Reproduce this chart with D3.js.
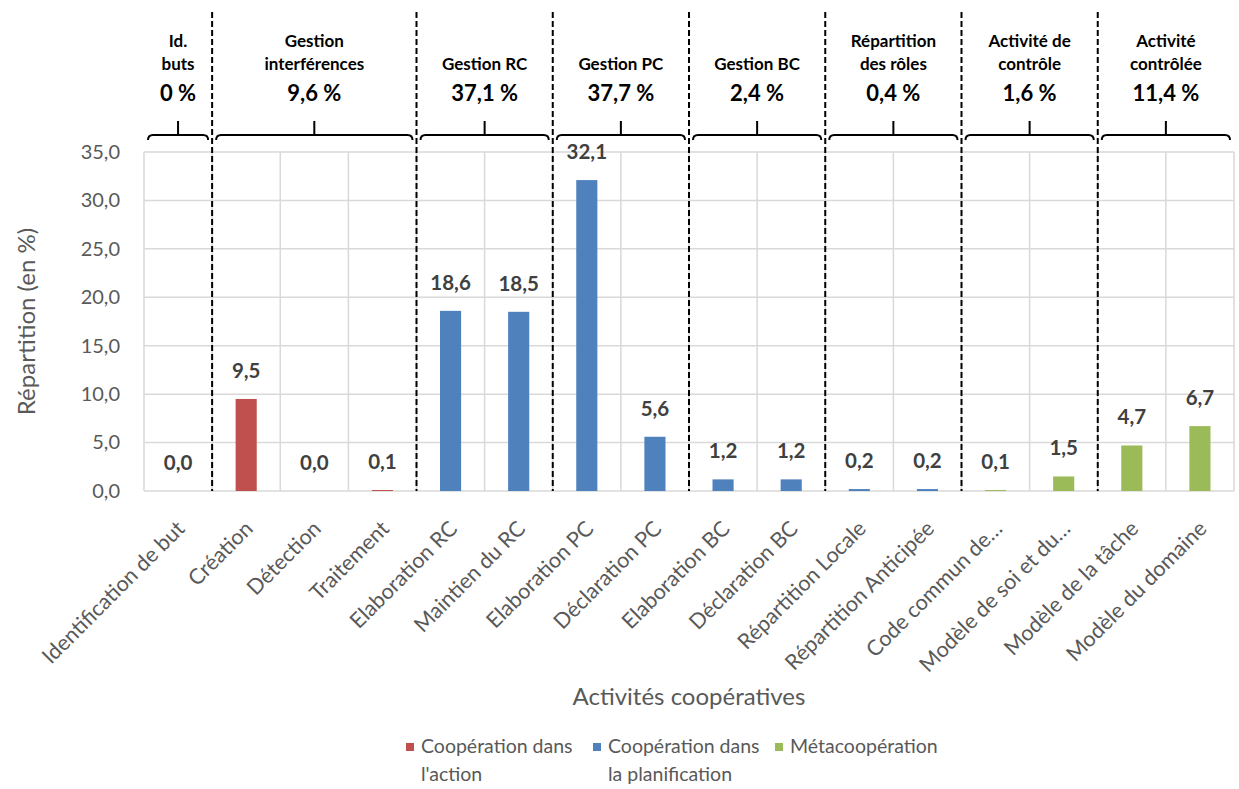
<!DOCTYPE html>
<html lang="fr">
  <head>
    <meta charset="utf-8">
    <title>Activités coopératives</title>
    <script src="https://cdn.jsdelivr.net/npm/d3@7"></script>
    <style>
      body { margin: 0; background: #fff; }
      svg { font-family: Lato, "Open Sans", sans-serif; }
    </style>
  </head>
  <body>
    <svg id="chart" width="1239" height="789"></svg>
    <script type="text/javascript">

    // categories and values (en %)
    var categories = ["Identification de but", "Création", "Détection", "Traitement",
      "Elaboration RC", "Maintien du RC", "Elaboration PC", "Déclaration PC",
      "Elaboration BC", "Déclaration BC", "Répartition Locale", "Répartition Anticipée",
      "Code commun de…", "Modèle de soi et du…", "Modèle de la tâche", "Modèle du domaine"];
    var values = [0.0, 9.5, 0.0, 0.1, 18.6, 18.5, 32.1, 5.6, 1.2, 1.2, 0.2, 0.2, 0.1, 1.5, 4.7, 6.7];
    var seriesOf = [0, 0, 0, 0, 1, 1, 1, 1, 1, 1, 1, 1, 2, 2, 2, 2];

    var seriesNames = [["Coopération dans", "l'action"], ["Coopération dans", "la planification"], ["Métacoopération"]];
    var seriesColors = ["#C0504D", "#4F81BD", "#9BBB59"];

    // top groups
    var groupNames = [["Id.", "buts"], ["Gestion", "interférences"], ["Gestion RC"], ["Gestion PC"],
      ["Gestion BC"], ["Répartition", "des rôles"], ["Activité de", "contrôle"], ["Activité", "contrôlée"]];
    var groupPct = ["0 %", "9,6 %", "37,1 %", "37,7 %", "2,4 %", "0,4 %", "1,6 %", "11,4 %"];
    var groupSizes = [1, 3, 2, 2, 2, 2, 2, 2];

    var yTicks = [0, 5, 10, 15, 20, 25, 30, 35];

    var svg = d3.select("#chart");
    var pl = 144, pr = 1234, pt = 152, pb = 491;
    var grey = "#595959", gridCol = "#d9d9d9";

    var fr = d3.formatLocale({decimal: ",", thousands: " ", grouping: [3], currency: ["", " €"]});
    var fmt = fr.format(".1f");

    var x = d3.scaleBand().domain(categories).range([pl, pr]).padding(0);
    var y = d3.scaleLinear().domain([0, 35]).range([pb, pt]);
    var step = x.step();
    var bw = step * 0.31;

    // horizontal grid
    svg.append("g").selectAll("line").data(yTicks).enter().append("line")
      .attr("x1", pl).attr("x2", pr)
      .attr("y1", function(d) { return y(d); }).attr("y2", function(d) { return y(d); })
      .attr("stroke", gridCol).attr("stroke-width", 1.5);

    // vertical grid at category edges
    var edges = d3.range(categories.length + 1);
    svg.append("g").selectAll("line").data(edges).enter().append("line")
      .attr("x1", function(i) { return pl + i * step; })
      .attr("x2", function(i) { return pl + i * step; })
      .attr("y1", pt).attr("y2", pb)
      .attr("stroke", gridCol).attr("stroke-width", 1.5);

    // y axis labels
    var yAxis = d3.axisLeft(y).tickValues(yTicks).tickFormat(fmt).tickSize(0).tickPadding(24);
    var gy = svg.append("g").attr("transform", "translate(" + pl + ",0)").call(yAxis);
    gy.select(".domain").remove();
    gy.selectAll("text").attr("fill", grey).style("font-size", "20px")
      .style("font-family", "Lato, sans-serif");

    // bars
    svg.append("g").selectAll("rect").data(values).enter().append("rect")
      .attr("x", function(d, i) { return x(categories[i]) + (step - bw) / 2; })
      .attr("y", function(d) { return y(d); })
      .attr("width", bw)
      .attr("height", function(d) { return pb - y(d); })
      .attr("fill", function(d, i) { return seriesColors[seriesOf[i]]; });

    // data labels
    svg.append("g").selectAll("text").data(values).enter().append("text")
      .attr("x", function(d, i) { return x(categories[i]) + step / 2; })
      .attr("y", function(d) { return y(d) - 21; })
      .attr("text-anchor", "middle")
      .attr("fill", "#404040")
      .style("font-size", "20.5px").style("font-weight", "bold")
      .text(function(d) { return fmt(d); });

    // x axis labels
    var xAxis = d3.axisBottom(x).tickSize(0).tickPadding(0);
    var gx = svg.append("g").attr("transform", "translate(0," + pb + ")").call(xAxis);
    gx.select(".domain").remove();
    gx.selectAll("text")
      .attr("fill", grey).style("font-size", "21.5px").style("font-family", "Lato, sans-serif")
      .attr("text-anchor", "end")
      .attr("dy", 0).attr("y", 0)
      .attr("transform", "translate(8,39) rotate(-45)");

    // group separators (dashed)
    var bounds = [];
    var acc = 0;
    groupSizes.forEach(function(s) { bounds.push([acc, acc + s]); acc += s; });
    var sepIdx = bounds.slice(1).map(function(b) { return b[0]; });
    svg.append("g").selectAll("line").data(sepIdx).enter().append("line")
      .attr("x1", function(i) { return pl + i * step; })
      .attr("x2", function(i) { return pl + i * step; })
      .attr("y1", 12).attr("y2", pb)
      .attr("stroke", "#000").attr("stroke-width", 2).attr("stroke-dasharray", "6,3");

    // brackets + headers
    var hdr = svg.append("g").selectAll("g").data(bounds).enter().append("g");
    hdr.append("path")
      .attr("d", function(b) {
        var x0 = pl + b[0] * step + 4, x1 = pl + b[1] * step - 4, xm = (x0 + x1) / 2;
        return "M" + x0 + ",140 Q" + x0 + ",135 " + (x0 + 5) + ",135 L" + (x1 - 5) + ",135 Q" + x1 + ",135 " + x1 + ",140" +
          " M" + xm + ",135 L" + xm + ",121";
      })
      .attr("fill", "none").attr("stroke", "#000").attr("stroke-width", 2);

    hdr.each(function(b, i) {
      var g = d3.select(this);
      var cx = pl + (b[0] + b[1]) / 2 * step;
      var lines = groupNames[i];
      lines.forEach(function(t, k) {
        g.append("text")
          .attr("x", cx).attr("y", 70 - (lines.length - 1 - k) * 23)
          .attr("text-anchor", "middle").attr("fill", "#000")
          .style("font-size", "17px").style("font-weight", "bold")
          .text(t);
      });
      g.append("text")
        .attr("x", cx).attr("y", 101)
        .attr("text-anchor", "middle").attr("fill", "#000")
        .style("font-size", "22px").style("font-weight", "bold")
        .text(groupPct[i]);
    });

    // axis titles
    svg.append("text")
      .attr("transform", "translate(35," + (pt + pb) / 2 + ") rotate(-90)")
      .attr("text-anchor", "middle").attr("fill", grey)
      .style("font-size", "24px")
      .text("Répartition (en %)");

    svg.append("text")
      .attr("x", 689).attr("y", 705)
      .attr("text-anchor", "middle").attr("fill", grey)
      .style("font-size", "24px")
      .text("Activités coopératives");

    // legend
    var legX = [406, 593, 775];
    var leg = svg.append("g").selectAll("g").data(seriesNames).enter().append("g")
      .attr("transform", function(d, i) { return "translate(" + legX[i] + ",0)"; });
    leg.append("rect")
      .attr("x", 0).attr("y", 743).attr("width", 8).attr("height", 8)
      .attr("fill", function(d, i) { return seriesColors[i]; });
    leg.each(function(d) {
      var g = d3.select(this);
      d.forEach(function(t, k) {
        g.append("text").attr("x", 15).attr("y", 753 + k * 28)
          .attr("fill", grey).style("font-size", "19.5px").text(t);
      });
    });

    </script>
  </body>
</html>
